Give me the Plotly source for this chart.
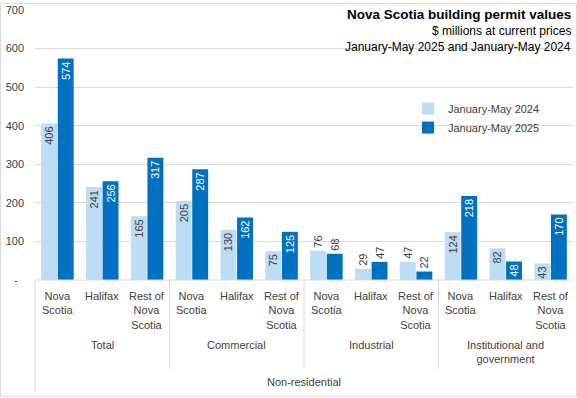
import plotly.graph_objects as go

groups = ["Total", "Commercial", "Industrial", "Institutional and<br>government"]
regions = ["Nova<br>Scotia", "Halifax", "Rest of<br>Nova<br>Scotia"]
outer_label = "Non-residential"

series_names = ["January-May 2024", "January-May 2025"]
values_2024 = [406, 241, 165, 205, 130, 75, 76, 29, 47, 124, 82, 43]
values_2025 = [574, 256, 317, 287, 162, 125, 68, 47, 22, 218, 48, 170]
label_outside = [False, False, False, False, False, False, True, True, True, False, False, False]

y_ticks = [0, 100, 200, 300, 400, 500, 600, 700]
y_ticktext = ["-\u00a0\u00a0", "100", "200", "300", "400", "500", "600", "700"]

title = "Nova Scotia building permit values"
subtitle1 = "$ millions at current prices"
subtitle2 = "January-May 2025 and January-May 2024"

FONT = "Liberation Sans"
TXT = "#404040"
LIGHT = "#BDDDF6"
DARK = "#0070C0"
GRID = "#D9D9D9"

n = len(values_2024)
xs = list(range(n))
pos = ["outside" if o else "inside" for o in label_outside]

fig = go.Figure()
for name, vals, col, intxt in [(series_names[0], values_2024, LIGHT, TXT),
                               (series_names[1], values_2025, DARK, "white")]:
    fig.add_trace(go.Bar(
        x=xs, y=vals, name=name, marker=dict(color=col, line=dict(width=0)),
        text=[str(v) for v in vals], textposition=pos, textangle=-90,
        insidetextanchor="end",
        insidetextfont=dict(color=intxt, size=11, family=FONT),
        outsidetextfont=dict(color=TXT, size=11, family=FONT),
        cliponaxis=False, hoverinfo="skip",
    ))

W, H = 577, 398
ML, MR, MT, MB = 35, 4, 7, 118
ph = H - MT - MB

def py(p):
    return (H - MB - p) / ph

shapes = []
shapes.append(dict(type="line", xref="paper", yref="paper", x0=0, x1=1, y0=0, y1=0,
                   line=dict(color=GRID, width=1)))
shapes.append(dict(type="line", xref="paper", yref="paper", x0=0, x1=0, y0=0, y1=py(393),
                   line=dict(color=GRID, width=1)))
for gi in range(1, len(groups)):
    xv = gi * len(regions) - 0.5
    shapes.append(dict(type="line", xref="x", yref="paper", x0=xv, x1=xv, y0=0, y1=py(370),
                       line=dict(color=GRID, width=1)))
shapes.append(dict(type="rect", xref="paper", yref="paper",
                   x0=(0.5 - ML) / (W - ML - MR), x1=(W - 0.5 - ML) / (W - ML - MR),
                   y0=py(H - 0.5), y1=py(0.5), line=dict(color=GRID, width=1)))

ann = []
for gi, g in enumerate(groups):
    for ri, r in enumerate(regions):
        i = gi * len(regions) + ri
        ann.append(dict(x=i, y=py(288), xref="x", yref="paper", text=r, showarrow=False,
                        xanchor="center", yanchor="top", align="center",
                        font=dict(size=11, color=TXT, family=FONT)))
    ann.append(dict(x=gi * len(regions) + 1, y=py(338), xref="x", yref="paper", text=g,
                    showarrow=False, xanchor="center", yanchor="top", align="center",
                    font=dict(size=11, color=TXT, family=FONT)))
ann.append(dict(x=(n - 1) / 2, y=py(383), xref="x", yref="paper", text=outer_label,
                showarrow=False, xanchor="center", yanchor="middle",
                font=dict(size=11, color=TXT, family=FONT)))
ann.append(dict(x=1, y=py(12), xref="paper", yref="paper", text="<b>" + title + "</b>",
                showarrow=False, xanchor="right", yanchor="middle",
                font=dict(size=13.5, color="#000000", family=FONT)))
ann.append(dict(x=1, y=py(28), xref="paper", yref="paper", text=subtitle1,
                showarrow=False, xanchor="right", yanchor="middle",
                font=dict(size=12, color="#000000", family=FONT)))
ann.append(dict(x=1, y=py(44), xref="paper", yref="paper", text=subtitle2,
                showarrow=False, xanchor="right", yanchor="middle",
                font=dict(size=12, color="#000000", family=FONT)))

fig.update_layout(
    width=W, height=H,
    margin=dict(l=ML, r=MR, t=MT, b=MB),
    paper_bgcolor="white", plot_bgcolor="white",
    font=dict(family=FONT, size=11, color=TXT),
    barmode="group", bargap=0.26, bargroupgap=0.04,
    uniformtext=dict(minsize=11, mode="show"),
    showlegend=True,
    legend=dict(x=(408 - ML) / (W - ML - MR), y=py(92), xanchor="left", yanchor="top",
                bgcolor="rgba(0,0,0,0)", font=dict(size=11, color=TXT, family=FONT),
                tracegroupgap=0, itemwidth=30),
    xaxis=dict(range=[-0.5, n - 0.5], showticklabels=False, showgrid=False,
               zeroline=False, showline=False, ticks="", fixedrange=True),
    yaxis=dict(range=[0, 700], tickvals=y_ticks, ticktext=y_ticktext,
               showgrid=True, gridcolor=GRID, gridwidth=1, zeroline=False,
               showline=False, ticks="", ticklabelstandoff=10,
               tickfont=dict(size=11, color=TXT, family=FONT), fixedrange=True),
    shapes=shapes, annotations=ann,
)

fig.write_html("out.html", config={"displayModeBar": False},
               post_script="document.body.style.margin='0';document.body.style.overflow='hidden';")
